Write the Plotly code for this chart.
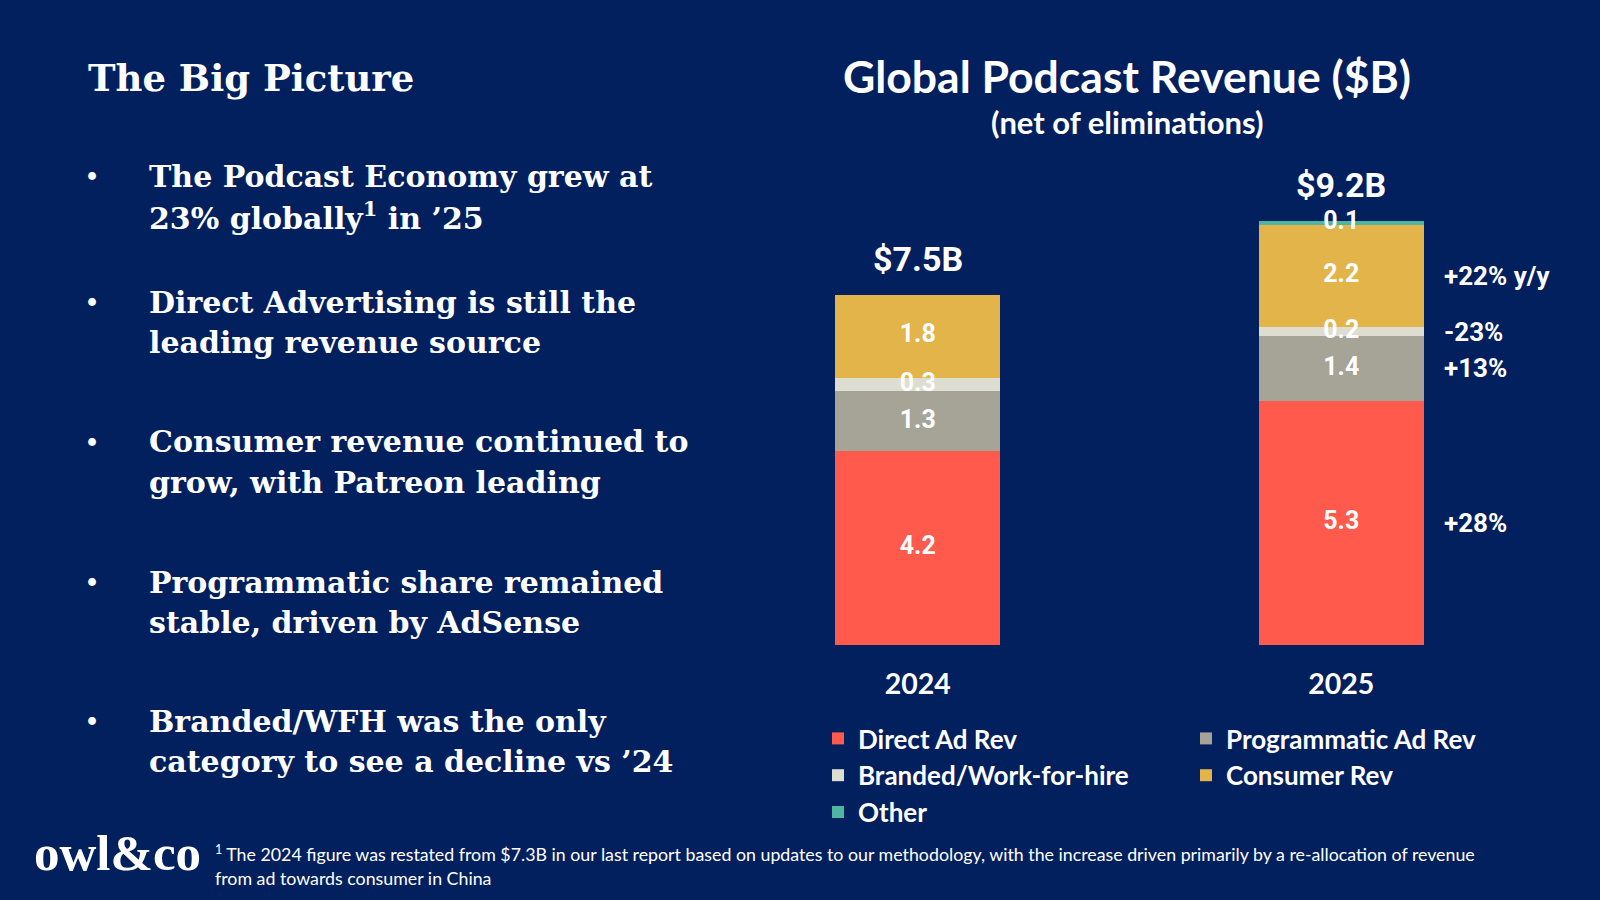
import plotly.graph_objects as go

# ---------------- data ----------------
years = ["2024", "2025"]
series_names = ["Direct Ad Rev", "Programmatic Ad Rev", "Branded/Work-for-hire", "Consumer Rev", "Other"]
direct_ad = [4.2, 5.3]
programmatic_ad = [1.3, 1.4]
branded_wfh = [0.3, 0.2]
consumer = [1.8, 2.2]
other = [0.0, 0.1]
totals_label = ["$7.5B", "$9.2B"]
yoy_labels = ["+28%", "+13%", "-23%", "+22% y/y"]   # Direct, Programmatic, Branded, Consumer

bullets = [
    ["The Podcast Economy grew at", "23% globally<sup style='font-size:60%'>1</sup> in \u201925"],
    ["Direct Advertising is still the", "leading revenue source"],
    ["Consumer revenue continued to", "grow, with Patreon leading"],
    ["Programmatic share remained", "stable, driven by AdSense"],
    ["Branded/WFH was the only", "category to see a decline vs \u201924"],
]
footnote = ("<sup>1</sup> The 2024 figure was restated from $7.3B in our last report based on updates to our methodology, "
            "with the increase driven primarily by a re-allocation of revenue<br>from ad towards consumer in China")

# ---------------- style ----------------
BG = "#03205E"
colors = ["#FF5A4B", "#A5A497", "#DEDDD2", "#E2B44A", "#4DB5A2"]
legend_group = ["legend", "legend2", "legend", "legend2", "legend"]
W, H = 1600, 900
ML, MR = 706, 47
PW = W - ML - MR
PX_PER_UNIT = 46.1
SERIF = "DejaVu Serif"
SANS = "Lato"
COND = "Roboto"

def px2x(px):
    return (px - ML) / PW

def py2y(py):
    return 1 - py / H

series_vals = [direct_ad, programmatic_ad, branded_wfh, consumer, other]

fig = go.Figure()
for name, vals, col, lg in zip(series_names, series_vals, colors, legend_group):
    fig.add_trace(go.Bar(
        x=years, y=vals, name=name, marker=dict(color=col, line=dict(width=0)),
        width=0.39, hoverinfo="skip", legend=lg,
    ))

# segment labels
lab_x, lab_y, lab_t = [], [], []
for i, yr in enumerate(years):
    base = 0.0
    for vals in series_vals:
        v = vals[i]
        if v > 0:
            lab_x.append(yr)
            lab_y.append(base + v / 2)
            lab_t.append(f"{v:.1f}")
        base += v
fig.add_trace(go.Scatter(
    x=lab_x, y=lab_y, text=lab_t, mode="text", showlegend=False, hoverinfo="skip",
    textfont=dict(family=COND, size=25, color="white", weight="bold"),
))

annotations = []
# totals above bars
for i, yr in enumerate(years):
    tot = sum(v[i] for v in series_vals)
    annotations.append(dict(x=i, y=tot, xref="x", yref="y", text=totals_label[i],
                            showarrow=False, yanchor="bottom", yshift=14,
                            font=dict(family=COND, size=34, color="white", weight="bold")))

# y/y labels to the right of the 2025 bar
base = 0.0
for k, vals in enumerate(series_vals[:4]):
    v = vals[1]
    annotations.append(dict(x=1, y=base + v / 2, xref="x", yref="y", text=yoy_labels[k],
                            showarrow=False, xanchor="left", xshift=101,
                            font=dict(family=COND, size=26, color="white", weight="bold")))
    base += v

# Titles
annotations.append(dict(x=px2x(1127), y=py2y(75), xref="paper", yref="paper",
                        text="Global Podcast Revenue ($B)", showarrow=False,
                        xanchor="center", yanchor="middle",
                        font=dict(family=SANS, size=44.5, color="white", weight="bold")))
annotations.append(dict(x=px2x(1127), y=py2y(122), xref="paper", yref="paper",
                        text="(net of eliminations)", showarrow=False,
                        xanchor="center", yanchor="middle",
                        font=dict(family=SANS, size=31, color="white", weight="bold")))

# Left side
annotations.append(dict(x=px2x(86), y=py2y(78), xref="paper", yref="paper",
                        text="The Big Picture", showarrow=False,
                        xanchor="left", yanchor="middle",
                        font=dict(family=SERIF, size=37, color="white", weight="bold")))
group_y = [176, 302, 442, 582, 721]
for gy, lines in zip(group_y, bullets):
    annotations.append(dict(x=px2x(92), y=py2y(gy), xref="paper", yref="paper",
                            text="\u2022", showarrow=False, xanchor="center", yanchor="middle",
                            font=dict(family=SERIF, size=22, color="white", weight="bold")))
    for j, line in enumerate(lines):
        annotations.append(dict(x=px2x(147), y=py2y(gy + j * 40), xref="paper", yref="paper",
                                text=line, showarrow=False, xanchor="left", yanchor="middle",
                                font=dict(family=SERIF, size=30, color="white", weight="bold")))

# Logo and footnote
annotations.append(dict(x=px2x(32), y=py2y(853), xref="paper", yref="paper",
                        text="owl&co", showarrow=False, xanchor="left", yanchor="middle",
                        font=dict(family="Liberation Serif", size=51, color="white", weight="bold")))
annotations.append(dict(x=px2x(213), y=py2y(865), xref="paper", yref="paper",
                        text=footnote, showarrow=False, xanchor="left", yanchor="middle",
                        align="left",
                        font=dict(family=SANS, size=17.8, color="white")))

legend_common = dict(orientation="v", xanchor="left", yanchor="top", traceorder="normal",
                     font=dict(family=SANS, size=26, color="white", weight="bold"),
                     bgcolor="rgba(0,0,0,0)", itemclick=False, itemdoubleclick=False,
                     tracegroupgap=0)

fig.update_layout(
    width=W, height=H,
    paper_bgcolor=BG, plot_bgcolor=BG,
    margin=dict(l=ML, r=MR, t=0, b=0),
    barmode="stack",
    showlegend=True,
    legend=dict(x=px2x(818), y=py2y(715), **legend_common),
    legend2=dict(x=px2x(1186), y=py2y(715), **legend_common),
    xaxis=dict(domain=[0, 1], range=[-0.5, 1.5], type="category",
               showgrid=False, zeroline=False, showline=False, ticks="",
               tickfont=dict(family=SANS, size=28.5, color="white", weight="bold"),
               ticklabelstandoff=19),
    yaxis=dict(domain=[py2y(645), py2y(645) + 11 * PX_PER_UNIT / H], range=[0, 11],
               visible=False, showgrid=False, zeroline=False),
    annotations=annotations,
    font=dict(family=SANS, color="white"),
)

fig.write_html("out.html", config={"displayModeBar": False},
               post_script="document.body.style.margin='0';document.body.style.background='%s';" % BG)
